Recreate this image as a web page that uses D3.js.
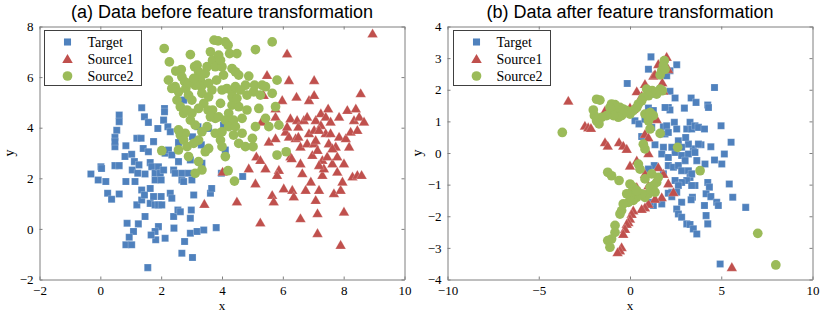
<!DOCTYPE html>
<html><head><meta charset="utf-8">
<script src="https://cdn.jsdelivr.net/npm/d3@7"></script>
<style>body{margin:0;background:#fff}svg{display:block}</style>
</head><body>
<svg id="c" width="830" height="313"></svg>
<script>
const seriesNames = ["Target", "Source1", "Source2"];
const titles = ["(a) Data before feature transformation", "(b) Data after feature transformation"];
const xTicksA = [-2, 0, 2, 4, 6, 8, 10];
const yTicksA = [-2, 0, 2, 4, 6, 8];
const xTicksB = [-10, -5, 0, 5, 10];
const yTicksB = [-4, -3, -2, -1, 0, 1, 2, 3, 4];

const targetA = [[-0.31,2.17],[-0.07,1.93],[0.02,2.46],[0.04,2.39],[0.18,1.87],[0.24,1.41],[0.37,1.17],[0.62,1.38],[0.48,2.5],[0.62,2.5],[0.48,3.25],[0.48,3.62],[0.54,3.9],[0.62,4.5],[0.62,4.24],[0.48,3.45],[0.84,3.29],[0.81,2.86],[0.84,1.87],[0.88,0.22],[1.03,2.95],[1.05,2.33],[1.12,2.66],[1.2,3.58],[1.34,3.58],[1.36,4.79],[1.45,4.43],[1.58,4.21],[1.14,1.87],[1.2,0.95],[1.36,1.54],[1.36,1.14],[1.45,1.34],[1.47,0.49],[1.25,0.2],[1.09,-0.1],[0.95,-0.33],[0.84,-0.63],[1.03,-0.63],[1.23,2.2],[1.27,2.53],[1.47,2.17],[1.41,3.18],[1.58,3.05],[1.64,2.62],[1.64,1.6],[1.69,2.46],[1.75,3.45],[1.8,2.2],[1.8,1.93],[1.91,2.46],[1.97,2.2],[2.0,1.93],[2.08,2.33],[2.13,2.99],[1.64,1.01],[1.75,1.28],[1.8,0.95],[1.91,0.95],[2.0,1.28],[2.02,0.95],[1.91,0.09],[1.8,-0.1],[1.82,-0.43],[1.67,-0.24],[1.56,-1.53],[2.13,-0.37],[2.08,4.3],[2.11,4.76],[2.11,4.63],[1.89,3.97],[2.22,4.04],[2.3,3.84],[2.24,3.12],[2.35,2.92],[2.41,2.33],[2.46,2.2],[2.3,1.41],[2.35,1.21],[2.41,0.49],[2.55,0.75],[2.63,0.68],[2.42,0.03],[2.68,-0.96],[2.77,-0.5],[2.68,1.93],[2.74,1.87],[2.57,2.66],[2.68,2.2],[2.9,2.2],[2.74,5.09],[2.57,3.41],[2.96,2.72],[3.01,1.93],[3.03,3.64],[3.07,1.34],[2.99,0.75],[2.96,0.42],[2.96,-0.17],[3.03,-1.13],[3.18,-0.1],[3.4,-0.04],[3.81,0.05],[3.34,2.59],[3.32,3.32],[3.21,4.04],[3.12,5.88],[3.62,1.41],[3.66,1.6],[3.98,2.2],[4.11,3.12],[4.05,4.1],[4.68,2.07],[3.56,3.97]];

const source1A = [[3.42,0.99],[4.02,2.26],[4.49,1.08],[4.88,2.39],[5.1,1.8],[5.26,0.25],[5.13,2.86],[5.26,2.72],[5.48,6.08],[5.37,5.29],[5.3,4.24],[5.43,2.39],[5.54,3.45],[5.65,1.34],[5.7,1.08],[5.76,3.58],[5.76,4.43],[5.76,4.76],[5.87,2.33],[5.81,2.13],[5.98,5.09],[6.09,3.84],[6.14,4.04],[6.03,1.6],[6.14,6.93],[6.2,5.88],[6.25,4.37],[6.2,3.64],[6.25,2.86],[6.29,2.79],[6.31,1.54],[6.36,1.28],[6.42,3.58],[6.45,5.22],[6.47,4.3],[6.51,4.04],[6.51,3.64],[6.58,3.25],[6.58,2.59],[6.64,2.2],[6.58,0.42],[6.69,4.3],[6.75,1.54],[6.8,3.38],[6.86,3.78],[6.8,4.43],[6.86,5.09],[6.92,1.87],[6.97,2.92],[7.03,3.91],[7.03,5.88],[7.03,5.29],[7.08,4.3],[7.03,3.38],[7.14,3.12],[7.08,1.14],[7.14,0.62],[7.14,-0.17],[7.19,1.54],[7.25,4.1],[7.25,4.57],[7.3,2.72],[7.3,2.13],[7.35,2.39],[7.41,4.43],[7.41,3.78],[7.46,2.86],[7.49,4.76],[7.51,3.38],[7.57,4.24],[7.63,2.59],[7.68,1.41],[7.74,3.25],[7.79,2.86],[7.85,3.64],[7.85,4.43],[7.9,1.54],[7.9,-0.63],[7.96,1.87],[8.01,2.59],[8.01,0.68],[8.07,3.58],[8.12,4.7],[8.18,3.25],[8.23,3.84],[8.29,2.07],[8.34,4.3],[8.4,4.76],[8.45,3.91],[8.45,2.13],[8.51,4.43],[8.56,5.36],[8.59,2.13],[8.67,4.24],[8.95,7.72],[7.19,3.91],[7.57,3.78],[7.08,3.51],[7.63,3.18],[7.19,2.52],[7.79,2.26]];

const source2A = [[2.1,7.13],[2.27,6.6],[2.48,6.24],[2.66,6.3],[2.46,5.62],[2.57,5.42],[2.35,5.55],[2.68,6.01],[2.77,5.82],[2.81,5.55],[2.9,5.29],[2.63,4.83],[2.74,4.57],[2.85,4.7],[3.01,5.09],[2.96,6.89],[3.1,6.41],[3.18,6.47],[3.23,6.21],[3.29,5.88],[3.32,5.62],[3.12,5.68],[3.34,5.36],[3.4,4.96],[3.45,6.14],[3.51,6.41],[3.62,7.0],[3.69,6.67],[3.74,7.46],[3.87,7.43],[3.89,6.87],[3.78,6.41],[3.82,5.88],[3.67,5.49],[3.56,5.22],[3.54,4.7],[3.69,4.7],[3.78,4.37],[3.95,4.96],[4.0,5.49],[4.05,6.08],[4.11,7.39],[4.2,7.26],[4.25,6.93],[4.49,6.93],[4.33,6.34],[4.44,6.21],[4.55,6.08],[4.16,5.55],[4.33,5.42],[4.44,5.62],[4.33,4.89],[4.55,4.83],[4.22,4.57],[4.11,4.3],[4.38,4.3],[4.66,4.37],[4.82,4.7],[4.88,6.04],[5.04,5.42],[5.1,7.09],[5.07,5.68],[5.26,5.29],[5.32,5.68],[5.43,5.62],[5.21,4.76],[5.43,4.37],[5.54,4.04],[5.65,7.39],[5.81,5.88],[5.65,5.36],[5.76,4.83],[5.87,4.1],[5.81,2.92],[6.11,3.05],[4.33,5.22],[3.78,3.78],[3.95,3.51],[4.0,3.25],[4.11,2.86],[4.22,4.04],[4.38,3.71],[4.66,3.78],[4.55,3.38],[4.77,3.25],[5.02,3.25],[5.0,3.58],[5.1,4.04],[3.51,4.04],[3.34,3.84],[3.23,3.51],[3.12,4.1],[2.96,4.3],[2.79,3.78],[2.63,3.71],[2.57,3.91],[2.74,3.51],[2.85,3.25],[3.07,3.38],[2.57,3.12],[2.9,2.86],[2.02,3.09],[3.23,2.66],[3.34,2.33],[3.12,2.2],[3.56,3.18],[3.45,3.05],[4.2,2.3],[4.41,1.89],[3.01,4.57],[3.23,4.76],[3.62,4.43],[3.89,4.43],[4.0,3.84],[4.44,4.04],[4.49,5.16],[4.82,5.29],[4.77,5.68],[4.6,5.49],[2.9,5.75],[3.07,5.95],[3.56,5.75],[4.0,6.41],[3.95,6.67],[2.24,5.88],[2.52,5.09]];

const targetB = [[1.15,3.04],[1.01,2.65],[2.56,2.79],[2.19,2.6],[2.01,2.44],[-0.15,2.2],[2.19,1.95],[2.47,1.74],[1.19,1.86],[4.63,2.07],[3.35,1.74],[3.62,1.6],[4.26,1.52],[4.3,1.44],[2.98,1.42],[2.1,1.44],[2.19,1.36],[1.92,1.44],[1.01,1.42],[1.28,1.34],[0.27,1.02],[0.49,0.92],[0.82,1.07],[1.19,0.81],[0.64,0.52],[1.37,0.26],[1.83,0.83],[1.92,0.6],[2.01,0.86],[2.1,0.65],[2.43,0.97],[2.56,0.76],[2.65,0.39],[3.11,0.76],[3.29,0.97],[3.38,0.76],[3.56,0.86],[3.75,0.81],[4.08,0.76],[3.89,0.26],[4.99,0.86],[4.43,0.2],[5.54,0.34],[5.17,-0.03],[4.63,-0.22],[5.03,-0.35],[4.11,-0.35],[3.66,-0.24],[3.47,0.13],[3.2,0.28],[3.05,0.49],[2.83,0.18],[2.47,0.02],[2.29,0.18],[1.83,0.18],[1.74,-0.03],[2.1,-0.14],[2.83,-0.08],[3.2,-0.03],[3.02,-0.24],[3.56,0.02],[3.75,0.28],[2.1,-0.4],[2.38,-0.45],[2.65,-0.4],[2.83,-0.56],[3.2,-0.56],[3.29,-0.77],[3.38,-0.66],[3.11,-0.87],[2.83,-0.93],[2.47,-0.87],[2.65,-1.03],[3.56,-1.03],[3.38,-1.03],[1.33,-0.4],[1.01,-0.51],[1.83,-0.66],[4.26,-0.93],[4.35,-1.08],[5.44,-0.98],[5.63,-1.4],[4.17,-1.29],[4.43,-1.38],[3.42,-1.4],[3.35,-1.48],[2.83,-1.56],[2.29,-1.24],[2.1,-1.27],[2.29,-1.38],[2.56,-1.24],[1.74,-1.61],[1.28,-1.66],[1.1,-1.56],[4.08,-1.66],[4.75,-1.56],[4.84,-1.66],[6.34,-1.72],[4.17,-1.98],[4.26,-2.24],[2.56,-1.77],[2.65,-1.93],[2.83,-2.03],[3.11,-2.24],[3.29,-2.26],[3.47,-2.4],[3.66,-2.56],[4.94,-3.51]];

const source1B = [[2.01,3.04],[1.83,2.92],[1.55,2.81],[2.1,2.65],[1.28,2.44],[1.37,2.49],[0.82,2.18],[1.77,2.23],[1.83,1.97],[0.37,1.95],[0.64,1.81],[-3.38,1.65],[0,1.44],[0.18,1.39],[-1.37,1.34],[-0.82,1.39],[-1.19,1.23],[-2.47,0.86],[-2.29,0.81],[-2.14,0.79],[1.46,1.07],[0.82,0.6],[1.01,0.49],[-1.37,0.34],[-1.22,0.23],[-0.6,0.34],[-0.37,0.23],[-0.18,0.13],[1.01,-0.01],[0.37,-0.24],[0,-0.4],[0.82,-0.66],[1.83,-0.66],[2.1,-0.96],[2.38,-1.24],[1.74,-1.4],[1.37,-1.45],[1.01,-1.61],[0.82,-1.72],[0.64,-1.77],[0.18,-1.82],[0.09,-1.93],[0,-2.08],[-0.09,-2.19],[-0.18,-2.24],[-0.27,-2.4],[-0.37,-2.56],[-0.46,-2.98],[-0.55,-3.08],[-0.68,-3.14],[5.58,-3.61],[1.01,-1.03],[1.55,-0.45],[0.37,-1.08]];

const source2B = [[1.88,2.92],[1.83,2.76],[1.74,2.6],[1.65,2.47],[1.92,2.65],[1.77,1.97],[1.65,2.02],[1.46,1.86],[1.22,1.97],[0.91,2.02],[1.01,1.81],[0.73,1.76],[0.64,1.65],[0.46,1.55],[0.37,1.44],[0.18,1.34],[0,1.23],[-0.18,1.34],[-0.37,1.39],[-0.55,1.44],[-0.82,1.53],[-1.01,1.55],[-1.1,1.44],[-1.01,1.34],[-0.73,1.23],[-0.46,1.18],[-0.64,1.13],[-0.91,1.18],[-1.28,1.18],[-1.55,1.13],[-1.7,0.92],[-1.83,1.02],[-1.95,1.18],[-2.01,1.36],[-1.83,1.7],[-1.65,1.67],[-3.71,0.65],[0.82,1.23],[1.1,1.28],[1.28,1.18],[1.01,1.02],[1.1,0.76],[1.65,0.62],[0.73,0.28],[0.82,0.13],[2.61,0.18],[3.84,-0.56],[-1.22,-0.61],[-1.01,-0.72],[-0.6,-0.87],[0,-0.98],[0.18,-1.08],[0.46,-0.35],[0.55,-0.51],[0.82,-0.82],[1.1,-1.08],[1.28,-1.03],[1.46,-0.93],[1.55,-0.77],[1.37,-1.24],[1.01,-1.29],[0.82,-1.4],[0.64,-1.29],[0.37,-1.4],[0.18,-1.5],[-0.09,-1.56],[-0.37,-1.61],[-0.46,-1.82],[-0.55,-1.93],[0,-1.35],[0.09,-1.24],[-0.82,-2.29],[-0.82,-2.51],[-1.01,-2.72],[-1.22,-2.77],[-1.1,-2.98],[7.0,-2.54],[7.99,-3.54],[-0.18,-1.29],[0.37,-1.19],[1.19,-0.66]];

const colors = ["#4f81bd", "#c0504d", "#9bbb59"];
const symbols = [d3.symbolSquare, d3.symbolTriangle, d3.symbolCircle];
const symSizes = [50, 48, 74];

const svg = d3.select("#c");
const panels = [
  {title: titles[0], left: 39.5, right: 404.5, top: 26.5, bottom: 279.5, xd: [-2, 10], yd: [-2, 8], xt: xTicksA, yt: yTicksA, data: [targetA, source1A, source2A], legX: 44.5, legW: 97},
  {title: titles[1], left: 447.5, right: 812.5, top: 26.5, bottom: 279.5, xd: [-10, 10], yd: [-4, 4], xt: xTicksB, yt: yTicksB, data: [targetB, source1B, source2B], legX: 453.5, legW: 97}
];

panels.forEach(p => {
  const x = d3.scaleLinear().domain(p.xd).range([p.left, p.right]);
  const y = d3.scaleLinear().domain(p.yd).range([p.bottom, p.top]);
  const g = svg.append("g");
  const clipId = "clip" + Math.round(p.left);
  svg.append("clipPath").attr("id", clipId).append("rect")
    .attr("x", p.left).attr("y", p.top).attr("width", p.right - p.left).attr("height", p.bottom - p.top);

  const pg = g.append("g").attr("clip-path", `url(#${clipId})`);
  p.data.forEach((arr, i) => {
    pg.selectAll(null).data(arr).enter().append("path")
      .attr("d", d3.symbol().type(symbols[i]).size(symSizes[i]))
      .attr("transform", d => `translate(${x(d[0])},${y(d[1]) + (i === 1 ? 1 : 0)})`)
      .attr("fill", colors[i])
      .attr("stroke", i === 2 ? "none" : "rgba(255,255,255,0.35)")
      .attr("stroke-width", 0.6);
  });

  const axisStyle = sel => {
    sel.select(".domain").attr("stroke", "#7f7f7f");
    sel.selectAll(".tick line").attr("stroke", "#7f7f7f");
  };
  const fontTick = "'Liberation Serif','Times New Roman',serif";
  g.append("g").attr("transform", `translate(0,${p.bottom})`)
    .call(d3.axisBottom(x).tickValues(p.xt).tickSize(-3).tickSizeOuter(0).tickPadding(6).tickFormat(d3.format("d")))
    .call(axisStyle)
    .call(s => s.selectAll("text").attr("font-family", fontTick).attr("font-size", 13).attr("fill", "#000"));
  g.append("g").attr("transform", `translate(0,${p.top})`)
    .call(d3.axisTop(x).tickValues(p.xt).tickSize(-3).tickSizeOuter(0).tickFormat(""))
    .call(axisStyle);
  g.append("g").attr("transform", `translate(${p.left},0)`)
    .call(d3.axisLeft(y).tickValues(p.yt).tickSize(-3).tickSizeOuter(0).tickPadding(6).tickFormat(d3.format("d")))
    .call(axisStyle)
    .call(s => s.selectAll("text").attr("font-family", fontTick).attr("font-size", 13).attr("fill", "#000"));
  g.append("g").attr("transform", `translate(${p.right},0)`)
    .call(d3.axisRight(y).tickValues(p.yt).tickSize(-3).tickSizeOuter(0).tickFormat(""))
    .call(axisStyle);

  g.append("text").attr("x", (p.left + p.right) / 2).attr("y", 310).attr("text-anchor", "middle")
    .attr("font-family", fontTick).attr("font-size", 13).text("x");
  g.append("text").attr("transform", `translate(${p.left - 26},${(p.top + p.bottom) / 2}) rotate(-90)`)
    .attr("text-anchor", "middle").attr("font-family", fontTick).attr("font-size", 14).text("y");

  g.append("text").attr("x", (p.left + p.right) / 2).attr("y", 18).attr("text-anchor", "middle")
    .attr("font-family", "'Liberation Sans',Arial,sans-serif").attr("font-size", 18).text(p.title);

  const lg = g.append("g");
  lg.append("rect").attr("x", p.legX).attr("y", 30.5).attr("width", p.legW).attr("height", 55)
    .attr("fill", "#fff").attr("stroke", "#404040").attr("stroke-width", 1);
  seriesNames.forEach((name, i) => {
    const cy = 42 + i * 17;
    lg.append("path").attr("d", d3.symbol().type(symbols[i]).size(symSizes[i]))
      .attr("transform", `translate(${p.legX + 23},${cy + (i === 1 ? 1 : 0)})`).attr("fill", colors[i]);
    lg.append("text").attr("x", p.legX + 43).attr("y", cy + 5)
      .attr("font-family", fontTick).attr("font-size", 14).text(name);
  });
});
</script>
</body></html>
